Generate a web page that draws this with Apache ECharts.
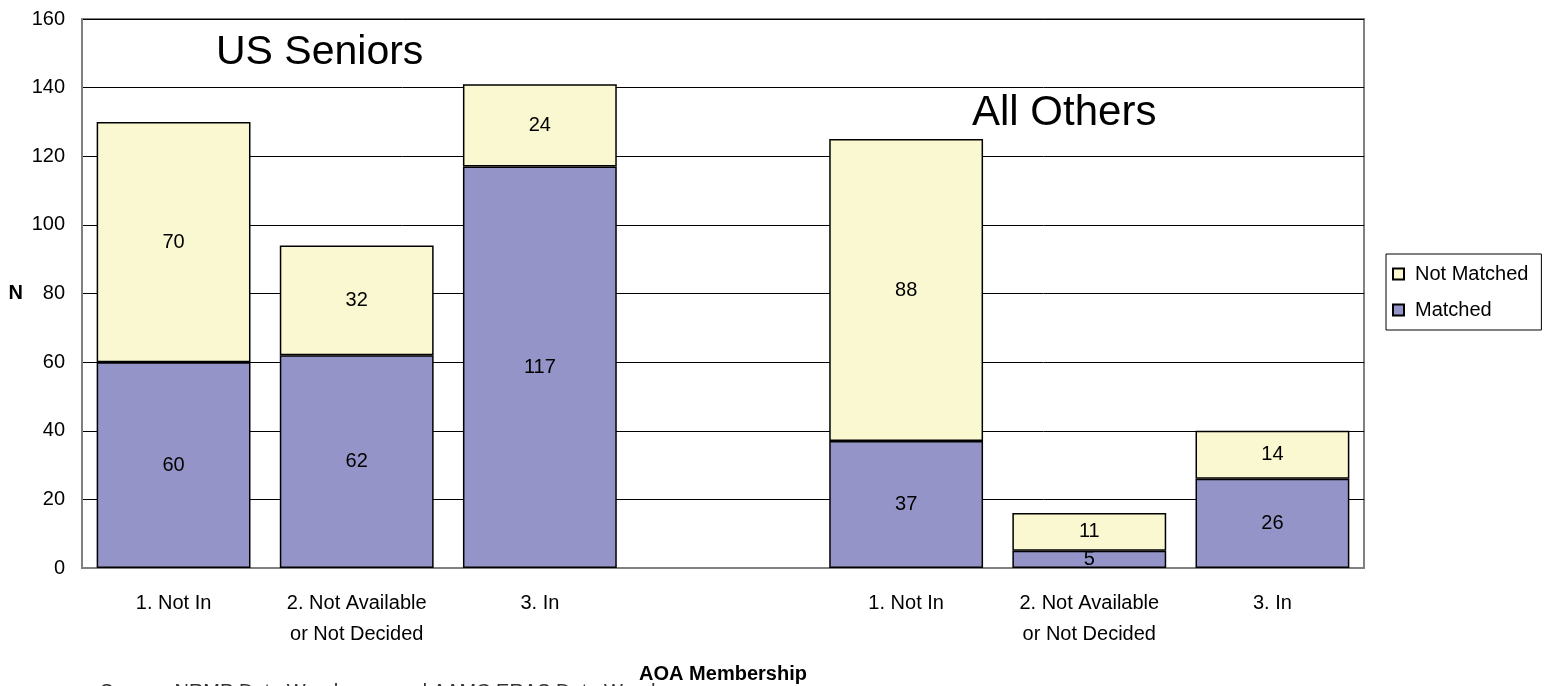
<!DOCTYPE html>
<html>
<head>
<meta charset="utf-8">
<script src="https://cdn.jsdelivr.net/npm/echarts@6/dist/echarts.min.js"></script>
<style>
  html, body { margin: 0; padding: 0; background: #fff; }
  #chart { width: 1556px; height: 686px; }
</style>
</head>
<body>
<div id="chart"></div>
<script>
// 分类（第 4 个是两组之间的空位）
const categories = ['1. Not In', '2. Not Available\nor Not Decided', '3. In', '', '1. Not In', '2. Not Available\nor Not Decided', '3. In']
const matched = [60, 62, 117, null, 37, 5, 26]
const notMatched = [70, 32, 24, null, 88, 11, 14]
const yTicks = [0, 20, 40, 60, 80, 100, 120, 140, 160]

const font = 'Liberation Sans, Arial, sans-serif'

const chart = echarts.init(document.getElementById('chart'))
chart.setOption({
  animation: false,
  textStyle: { fontFamily: font },
  grid: {
    left: 82,
    right: 192,
    top: 19,
    bottom: 118,
    outerBoundsMode: 'none',
    show: true,
    borderColor: '#808080',
    borderWidth: 2,
    backgroundColor: '#fff'
  },
  legend: {
    data: ['Not Matched', 'Matched'],
    orient: 'vertical',
    left: 1386,
    top: 254,
    padding: [10, 13, 10, 6],
    itemGap: 16,
    itemWidth: 11,
    itemHeight: 11,
    icon: 'rect',
    borderColor: '#000',
    borderWidth: 1,
    textStyle: { fontSize: 20, color: '#000', fontFamily: font, padding: [0, 0, 0, 6] }
  },
  xAxis: {
    type: 'category',
    data: categories,
    name: 'AOA Membership',
    nameLocation: 'middle',
    nameGap: 96,
    nameTextStyle: { fontSize: 20, fontWeight: 'bold', color: '#000' },
    axisLine: { lineStyle: { color: '#808080', width: 2 } },
    axisTick: { show: false },
    axisLabel: { fontSize: 20, color: '#000', margin: 20, lineHeight: 31, interval: 0 }
  },
  yAxis: {
    type: 'value',
    min: yTicks[0],
    max: yTicks[yTicks.length - 1],
    interval: 20,
    name: 'N',
    nameLocation: 'middle',
    nameRotate: 0,
    nameGap: 59,
    nameTextStyle: { fontSize: 20, fontWeight: 'bold', color: '#000' },
    axisLine: { show: true, lineStyle: { color: '#808080', width: 2 } },
    axisTick: { show: false },
    axisLabel: { fontSize: 20, color: '#000', margin: 17 },
    splitLine: { lineStyle: { color: '#000', width: 1 } }
  },
  series: [
    {
      name: 'Matched',
      type: 'bar',
      stack: 'aoa',
      barCategoryGap: '16%',
      data: matched,
      itemStyle: { color: '#9494C8', borderColor: '#000', borderWidth: 1.5 },
      label: { show: true, position: 'inside', fontSize: 20, color: '#000' }
    },
    {
      name: 'Not Matched',
      type: 'bar',
      stack: 'aoa',
      barCategoryGap: '16%',
      data: notMatched,
      itemStyle: { color: '#FAF8D0', borderColor: '#000', borderWidth: 1.5 },
      label: { show: true, position: 'inside', fontSize: 20, color: '#000' }
    }
  ],
  graphic: [
    {
      type: 'text',
      left: 216,
      top: 32,
      z: 100,
      style: { text: 'US Seniors', fontSize: 41, fill: '#000', fontFamily: font }
    },
    {
      type: 'text',
      left: 972,
      top: 92,
      z: 100,
      style: { text: 'All Others', fontSize: 42, fill: '#000', fontFamily: font }
    },
    {
      type: 'text',
      left: 100,
      top: 682,
      style: { text: 'Source: NRMP Data Warehouse and AAMC ERAS Data Warehouse', fontSize: 20, fill: '#333', fontFamily: font }
    }
  ]
})
</script>
</body>
</html>
